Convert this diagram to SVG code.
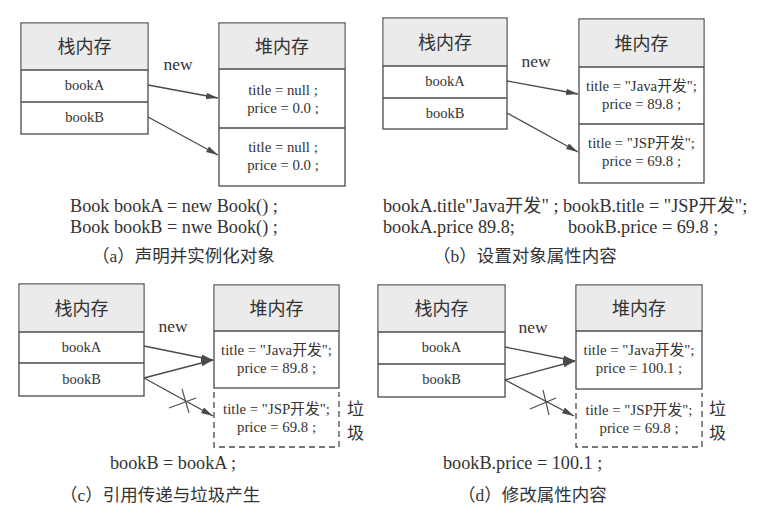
<svg xmlns="http://www.w3.org/2000/svg" width="765" height="521" viewBox="0 0 765 521">
<defs>
<style>
.box{fill:#ffffff;stroke:#4a4a4a;stroke-width:1.3}
.hdr{fill:#ebebeb;stroke:none}
.ln{stroke:#4a4a4a;stroke-width:1.3;fill:none}
.dash{stroke:#4a4a4a;stroke-width:1.3;fill:none;stroke-dasharray:6,4}
.arr{stroke:#4a4a4a;stroke-width:1.3;fill:none;marker-end:url(#ah)}
.x{stroke:#4a4a4a;stroke-width:1.1;fill:none}
text{font-family:"Liberation Serif","Noto Sans CJK SC",serif;fill:#333333}
.h{font-size:18px;text-anchor:middle}
.c{font-size:14.5px;text-anchor:middle}
.f{font-size:14.8px;text-anchor:middle}
.n{font-size:17.5px;text-anchor:middle}
.code{font-size:18.2px}
.cap{font-size:17.5px}
.g{font-size:17px}
</style>
<marker id="ah" viewBox="0 0 12 8" refX="12" refY="4" markerWidth="12" markerHeight="8" markerUnits="userSpaceOnUse" orient="auto">
<path d="M0,0.8 L12,4 L0,7.2 z" fill="#4a4a4a"/>
</marker>
</defs>
<rect width="765" height="521" fill="#ffffff"/>

<!-- Panel (a) -->
<g id="a-stack">
<rect class="box" x="21" y="23" width="127" height="111"/>
<rect class="hdr" x="21.7" y="23.7" width="125.6" height="46"/>
<line class="ln" x1="21" y1="70" x2="148" y2="70"/>
<line class="ln" x1="21" y1="102" x2="148" y2="102"/>
<text class="h" x="84.5" y="53">栈内存</text>
<text class="c" x="84.5" y="90">bookA</text>
<text class="c" x="84.5" y="122">bookB</text>
</g>
<g id="a-heap">
<rect class="box" x="219" y="23" width="126" height="163"/>
<rect class="hdr" x="219.7" y="23.7" width="124.6" height="45"/>
<line class="ln" x1="219" y1="69" x2="345" y2="69"/>
<line class="ln" x1="219" y1="128" x2="345" y2="128"/>
<text class="h" x="282" y="53">堆内存</text>
<text class="f" x="283" y="95">title = null ;</text>
<text class="f" x="283" y="113">price = 0.0 ;</text>
<text class="f" x="283" y="152">title = null ;</text>
<text class="f" x="283" y="170">price = 0.0 ;</text>
</g>
<g id="a-text">
<text class="n" x="178" y="70">new</text>
<text class="code" x="70" y="212">Book bookA = new Book() ;</text>
<text class="code" x="70" y="233">Book bookB = nwe Book() ;</text>
<text class="cap" x="92" y="262">（a）声明并实例化对象</text>
</g>

<!-- Panel (b) -->
<g id="b-stack">
<rect class="box" x="383" y="18" width="124" height="111"/>
<rect class="hdr" x="383.7" y="18.7" width="122.6" height="47"/>
<line class="ln" x1="383" y1="66" x2="507" y2="66"/>
<line class="ln" x1="383" y1="98" x2="507" y2="98"/>
<text class="h" x="445" y="49">栈内存</text>
<text class="c" x="445" y="86">bookA</text>
<text class="c" x="445" y="118">bookB</text>
</g>
<g id="b-heap">
<rect class="box" x="579" y="19" width="125" height="164"/>
<rect class="hdr" x="579.7" y="19.7" width="123.6" height="47"/>
<line class="ln" x1="579" y1="67" x2="704" y2="67"/>
<line class="ln" x1="579" y1="124" x2="704" y2="124"/>
<text class="h" x="641.5" y="50">堆内存</text>
<text class="f" x="641.5" y="91">title = "Java开发";</text>
<text class="f" x="641.5" y="109">price = 89.8 ;</text>
<text class="f" x="641.5" y="148">title = "JSP开发";</text>
<text class="f" x="641.5" y="166">price = 69.8 ;</text>
</g>
<g id="b-text">
<text class="n" x="536" y="67">new</text>
<text class="code" x="383" y="212">bookA.title"Java开发" ; bookB.title = "JSP开发";</text>
<text class="code" x="383" y="233">bookA.price 89.8;</text>
<text class="code" x="568" y="233">bookB.price = 69.8 ;</text>
<text class="cap" x="433" y="262">（b）设置对象属性内容</text>
</g>

<!-- Panel (c) -->
<g id="c-stack">
<rect class="box" x="19" y="284" width="125" height="112"/>
<rect class="hdr" x="19.7" y="284.7" width="123.6" height="47"/>
<line class="ln" x1="19" y1="332" x2="144" y2="332"/>
<line class="ln" x1="19" y1="363" x2="144" y2="363"/>
<text class="h" x="81.5" y="315">栈内存</text>
<text class="c" x="81.5" y="352">bookA</text>
<text class="c" x="81.5" y="384">bookB</text>
</g>
<g id="c-heap">
<rect class="box" x="214" y="285" width="125" height="103"/>
<rect class="hdr" x="214.7" y="285.7" width="123.6" height="45"/>
<line class="ln" x1="214" y1="331" x2="339" y2="331"/>
<path class="dash" d="M214,392 V447 H339 V392"/>
<text class="h" x="276.5" y="315">堆内存</text>
<text class="f" x="276.5" y="355">title = "Java开发";</text>
<text class="f" x="276.5" y="373">price = 89.8 ;</text>
<text class="f" x="276.5" y="414">title = "JSP开发";</text>
<text class="f" x="276.5" y="432">price = 69.8 ;</text>
<text class="g" x="347" y="415">垃</text>
<text class="g" x="347" y="439">圾</text>
</g>
<g id="c-text">
<text class="n" x="173" y="332">new</text>
<text class="code" x="110" y="469">bookB = bookA ;</text>
<text class="cap" x="60" y="501">（c）引用传递与垃圾产生</text>
</g>

<!-- Panel (d) -->
<g id="d-stack">
<rect class="box" x="378" y="285" width="127" height="112"/>
<rect class="hdr" x="378.7" y="285.7" width="125.6" height="46"/>
<line class="ln" x1="378" y1="332" x2="505" y2="332"/>
<line class="ln" x1="378" y1="364" x2="505" y2="364"/>
<text class="h" x="441.5" y="315">栈内存</text>
<text class="c" x="441.5" y="352">bookA</text>
<text class="c" x="441.5" y="384">bookB</text>
</g>
<g id="d-heap">
<rect class="box" x="576" y="285" width="126" height="104"/>
<rect class="hdr" x="576.7" y="285.7" width="124.6" height="45"/>
<line class="ln" x1="576" y1="331" x2="702" y2="331"/>
<path class="dash" d="M576,393 V447 H702 V393"/>
<text class="h" x="639" y="315">堆内存</text>
<text class="f" x="639" y="355">title = "Java开发";</text>
<text class="f" x="639" y="373">price = 100.1 ;</text>
<text class="f" x="639" y="415">title = "JSP开发";</text>
<text class="f" x="639" y="433">price = 69.8 ;</text>
<text class="g" x="709" y="415">垃</text>
<text class="g" x="709" y="439">圾</text>
</g>
<g id="d-text">
<text class="n" x="533" y="333">new</text>
<text class="code" x="443" y="469">bookB.price = 100.1 ;</text>
<text class="cap" x="458" y="501">（d）修改属性内容</text>
</g>

<g id="connectors">
<line class="arr" x1="148" y1="85" x2="218" y2="98"/>
<line class="arr" x1="148" y1="117" x2="218" y2="155"/>
<line class="arr" x1="507" y1="81" x2="578" y2="94"/>
<line class="arr" x1="507" y1="113" x2="578" y2="152"/>
<line class="arr" x1="144" y1="346" x2="213" y2="360"/>
<line class="arr" x1="144" y1="378" x2="213" y2="360"/>
<line class="arr" x1="144" y1="378" x2="213" y2="416"/>
<line class="x" x1="169" y1="408" x2="196" y2="398"/>
<line class="x" x1="182" y1="389" x2="189" y2="413"/>
<line class="arr" x1="505" y1="347" x2="575" y2="361"/>
<line class="arr" x1="505" y1="380" x2="575" y2="361"/>
<line class="arr" x1="505" y1="380" x2="574" y2="416"/>
<line class="x" x1="530" y1="409" x2="556" y2="398"/>
<line class="x" x1="543" y1="390" x2="549" y2="415"/>
</g>
</svg>
